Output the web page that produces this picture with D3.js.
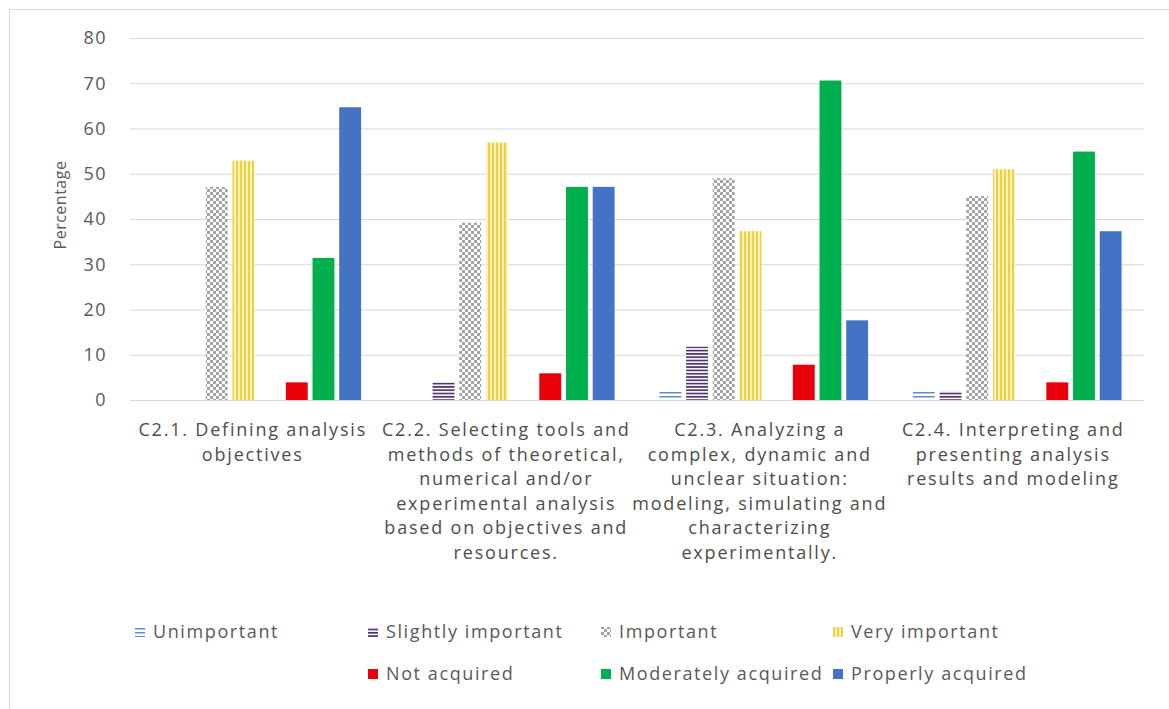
<!DOCTYPE html>
<html>
<head>
<meta charset="utf-8">
<script src="https://cdn.jsdelivr.net/npm/d3@7"></script>
<style>
    body { margin: 0; background: #ffffff; }
    svg text { font-family: "Open Sans", "Noto Sans", sans-serif; }
</style>
</head>
<body>
<div id="chart"></div>
<script>
// category labels, one array of lines per group
const category_labels = [
    ['C2.1. Defining analysis', 'objectives'],
    ['C2.2. Selecting tools and', 'methods of theoretical,', 'numerical and/or', 'experimental analysis', 'based on objectives and', 'resources.'],
    ['C2.3. Analyzing a', 'complex, dynamic and', 'unclear situation:', 'modeling, simulating and', 'characterizing', 'experimentally.'],
    ['C2.4. Interpreting and', 'presenting analysis', 'results and modeling']
];

// series names, the fifth one is an empty series (keeps a slot free)
const series_names = ['Unimportant', 'Slightly important', 'Important', 'Very important', '', 'Not acquired', 'Moderately acquired', 'Properly acquired'];

const unimportant = [0, 0, 2.0, 2.0];
const slightly_important = [0, 3.9, 11.8, 2.0];
const important = [47.1, 39.2, 49.0, 45.1];
const very_important = [52.9, 56.9, 37.3, 51.0];
const blank_series = [null, null, null, null];
const not_acquired = [3.9, 5.9, 7.8, 3.9];
const moderately_acquired = [31.4, 47.1, 70.6, 54.9];
const properly_acquired = [64.7, 47.1, 17.6, 37.3];

const y_ticks = [0, 10, 20, 30, 40, 50, 60, 70, 80];
const y_title = 'Percentage';

const series_values = [unimportant, slightly_important, important, very_important, blank_series, not_acquired, moderately_acquired, properly_acquired];

const width = 1169, height = 709;
const plot = {left: 130, right: 1144, top: 38, bottom: 400};

let svg = d3.select('#chart').append('svg')
    .attr('width', width)
    .attr('height', height);

//////////////////////////////////////////////////////////////
//////////////////// Patterns ////////////////////////////////
//////////////////////////////////////////////////////////////
let defs = svg.append('defs');

function add_pattern(id, w, h, draw) {
    let p = defs.append('pattern')
        .attr('id', id)
        .attr('patternUnits', 'userSpaceOnUse')
        .attr('width', w)
        .attr('height', h);
    draw(p);
}

// wide horizontal light blue
add_pattern('pat_unimportant', 4, 4, function (p) {
    p.append('rect').attr('width', 4).attr('height', 4).attr('fill', '#ffffff');
    p.append('rect').attr('y', 0).attr('width', 4).attr('height', 1.5).attr('fill', '#5b8fc9');
});
// narrow horizontal dark purple
add_pattern('pat_slightly', 4, 3.3, function (p) {
    p.append('rect').attr('width', 4).attr('height', 3.3).attr('fill', '#f6f0f8');
    p.append('rect').attr('y', 0).attr('width', 4).attr('height', 1.6).attr('fill', '#4a3566');
});
// small checker grey
add_pattern('pat_important', 6, 6, function (p) {
    p.append('rect').attr('width', 6).attr('height', 6).attr('fill', '#ffffff');
    p.append('rect').attr('x', 0).attr('y', 0).attr('width', 3).attr('height', 3).attr('fill', '#a3a3a3');
    p.append('rect').attr('x', 3).attr('y', 3).attr('width', 3).attr('height', 3).attr('fill', '#a3a3a3');
});
// vertical yellow stripes
add_pattern('pat_very', 4, 4, function (p) {
    p.append('rect').attr('width', 4).attr('height', 4).attr('fill', '#fdf3b8');
    p.append('rect').attr('x', 0).attr('width', 2).attr('height', 4).attr('fill', '#efcf45');
});

const series_fills = ['url(#pat_unimportant)', 'url(#pat_slightly)', 'url(#pat_important)', 'url(#pat_very)', 'none', '#e8000b', '#00b04f', '#4472c4'];

//////////////////////////////////////////////////////////////
//////////////////// Scales //////////////////////////////////
//////////////////////////////////////////////////////////////
let x0 = d3.scaleBand()
    .domain(d3.range(category_labels.length))
    .range([plot.left, plot.right])
    .padding(0);

let x1 = d3.scaleBand()
    .domain(d3.range(series_names.length))
    .range([0, x0.bandwidth()])
    .paddingInner(0.18)
    .paddingOuter(0.84);

let y = d3.scaleLinear()
    .domain([0, 80])
    .range([plot.bottom, plot.top]);

// chart border (only top and left are in the picture)
svg.append('rect')
    .attr('x', 9.5).attr('y', 9.5)
    .attr('width', 1300).attr('height', 900)
    .attr('fill', 'none')
    .attr('stroke', '#d9d9d9');

// gridlines
let y_axis = d3.axisLeft(y)
    .tickValues(y_ticks)
    .tickSize(-(plot.right - plot.left))
    .tickPadding(23);

let gy = svg.append('g')
    .attr('transform', 'translate(' + plot.left + ',0)')
    .call(y_axis);
gy.select('.domain').remove();
gy.selectAll('.tick line').attr('stroke', '#d9d9d9');
gy.selectAll('.tick text')
    .attr('fill', '#595959')
    .attr('font-size', '18px')
    .attr('letter-spacing', '1.5px');

// y axis title
svg.append('text')
    .attr('transform', 'translate(66,205) rotate(-90)')
    .attr('text-anchor', 'middle')
    .attr('fill', '#595959')
    .attr('font-size', '16px')
    .attr('letter-spacing', '0.5px')
    .text(y_title);

//////////////////////////////////////////////////////////////
//////////////////// Bars ////////////////////////////////////
//////////////////////////////////////////////////////////////
series_values.forEach(function (values, s) {
    if (series_names[s] === '') return;
    svg.append('g')
        .selectAll('rect')
        .data(values)
        .join('rect')
        .attr('x', (d, i) => x0(i) + x1(s))
        .attr('y', d => y(d))
        .attr('width', x1.bandwidth())
        .attr('height', d => y(0) - y(d))
        .attr('fill', series_fills[s]);
});

// category labels
category_labels.forEach(function (lines, i) {
    let t = svg.append('text')
        .attr('text-anchor', 'middle')
        .attr('fill', '#4d4d4d')
        .attr('font-size', '18px')
        .attr('letter-spacing', '1.8px');
    lines.forEach(function (line, k) {
        t.append('tspan')
            .attr('x', x0(i) + x0.bandwidth() / 2 - 4)
            .attr('y', 436 + k * 24.6)
            .text(line);
    });
});

//////////////////////////////////////////////////////////////
//////////////////// Legend //////////////////////////////////
//////////////////////////////////////////////////////////////
const legend_cols = [135, 368, 601, 833];
const legend_rows = [632, 674];

series_names.forEach(function (name, s) {
    if (name === '') return;
    let lx = legend_cols[s % 4], ly = legend_rows[Math.floor(s / 4)];
    let g = svg.append('g').attr('transform', 'translate(' + lx + ',' + ly + ')');
    g.append('rect')
        .attr('x', 0).attr('y', -5)
        .attr('width', 10).attr('height', 10)
        .attr('fill', series_fills[s]);
    g.append('text')
        .attr('x', 18)
        .attr('y', 6)
        .attr('fill', '#595959')
        .attr('font-size', '18px')
        .attr('letter-spacing', '1.6px')
        .text(name);
});
</script>
</body>
</html>
